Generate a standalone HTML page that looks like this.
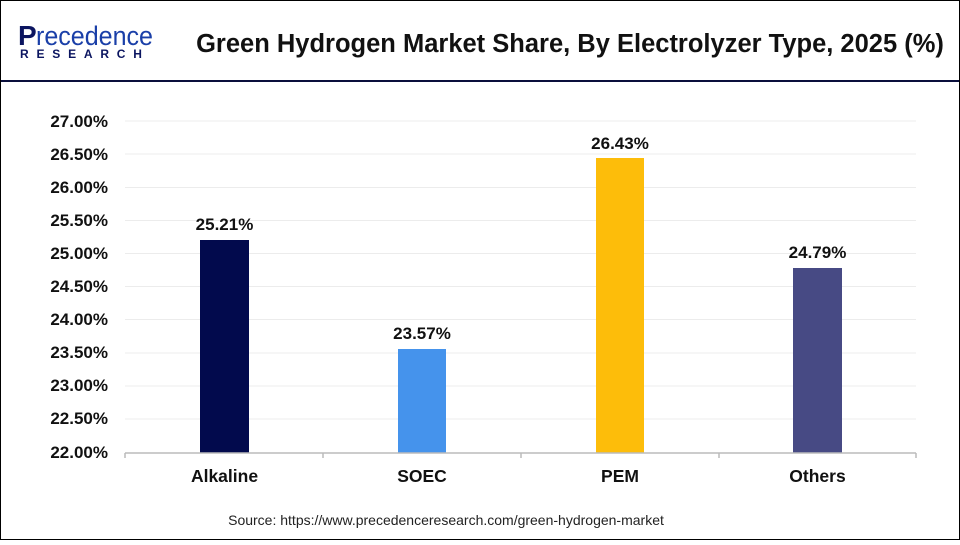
<!DOCTYPE html>
<html><head><meta charset="utf-8"><style>
body{margin:0;width:960px;height:540px;overflow:hidden;background:#fff;font-family:"Liberation Sans",Arial,sans-serif}
</style></head><body>
<svg width="960" height="540" viewBox="0 0 960 540" xmlns="http://www.w3.org/2000/svg" font-family="Liberation Sans, Arial, sans-serif">
<rect x="0.5" y="0.5" width="959" height="539" fill="#fff" stroke="#000" stroke-width="1"/>
<line x1="1" y1="81" x2="959" y2="81" stroke="#0a0f3c" stroke-width="2"/>
<!-- logo -->
<text x="18" y="45" font-size="28" fill="#0b1560" font-weight="bold">P</text>
<text x="36" y="45" font-size="27" fill="#1a3fa8" textLength="117" lengthAdjust="spacingAndGlyphs">recedence</text>
<text x="20" y="58" font-size="12" fill="#0b1560" font-weight="bold" letter-spacing="7.8">RESEARCH</text>
<text x="570" y="52" font-size="25.5" font-weight="bold" text-anchor="middle" fill="#111">Green Hydrogen Market Share, By Electrolyzer Type, 2025 (%)</text>
<g stroke="#ececec" stroke-width="1">
<line x1="125" y1="121" x2="916" y2="121"/><line x1="125" y1="154" x2="916" y2="154"/>
<line x1="125" y1="187.5" x2="916" y2="187.5"/><line x1="125" y1="220.5" x2="916" y2="220.5"/>
<line x1="125" y1="253.5" x2="916" y2="253.5"/><line x1="125" y1="286.5" x2="916" y2="286.5"/>
<line x1="125" y1="319.5" x2="916" y2="319.5"/><line x1="125" y1="353" x2="916" y2="353"/>
<line x1="125" y1="386" x2="916" y2="386"/><line x1="125" y1="419" x2="916" y2="419"/>
</g>
<g font-size="17" font-weight="bold" fill="#111" text-anchor="end">
<text x="108" y="127">27.00%</text><text x="108" y="160">26.50%</text>
<text x="108" y="193">26.00%</text><text x="108" y="226">25.50%</text>
<text x="108" y="259">25.00%</text><text x="108" y="292">24.50%</text>
<text x="108" y="325">24.00%</text><text x="108" y="358">23.50%</text>
<text x="108" y="391">23.00%</text><text x="108" y="424">22.50%</text>
<text x="108" y="458">22.00%</text>
</g>
<rect x="200" y="240" width="49" height="213" fill="#020a4d"/>
<rect x="398" y="349" width="48" height="104" fill="#4593ec"/>
<rect x="596" y="158" width="48" height="295" fill="#fdbd0a"/>
<rect x="793" y="268" width="49" height="185" fill="#474a84"/>
<line x1="125" y1="453" x2="916" y2="453" stroke="#bbb" stroke-width="1.5"/>
<g stroke="#bbb" stroke-width="1.5"><line x1="125" y1="453" x2="125" y2="458"/><line x1="323" y1="453" x2="323" y2="458"/><line x1="521" y1="453" x2="521" y2="458"/><line x1="719" y1="453" x2="719" y2="458"/><line x1="916" y1="453" x2="916" y2="458"/></g>
<g font-size="17" font-weight="bold" fill="#111" text-anchor="middle">
<text x="224.5" y="230">25.21%</text><text x="422" y="339">23.57%</text>
<text x="620" y="149">26.43%</text><text x="817.5" y="258">24.79%</text>
</g>
<g font-size="17.5" font-weight="bold" fill="#111" text-anchor="middle">
<text x="224.5" y="482">Alkaline</text><text x="422" y="482">SOEC</text>
<text x="620" y="482">PEM</text><text x="817.5" y="482">Others</text>
</g>
<text x="446" y="525" font-size="14" fill="#222" text-anchor="middle">Source: https://www.precedenceresearch.com/green-hydrogen-market</text>
</svg>
</body></html>
